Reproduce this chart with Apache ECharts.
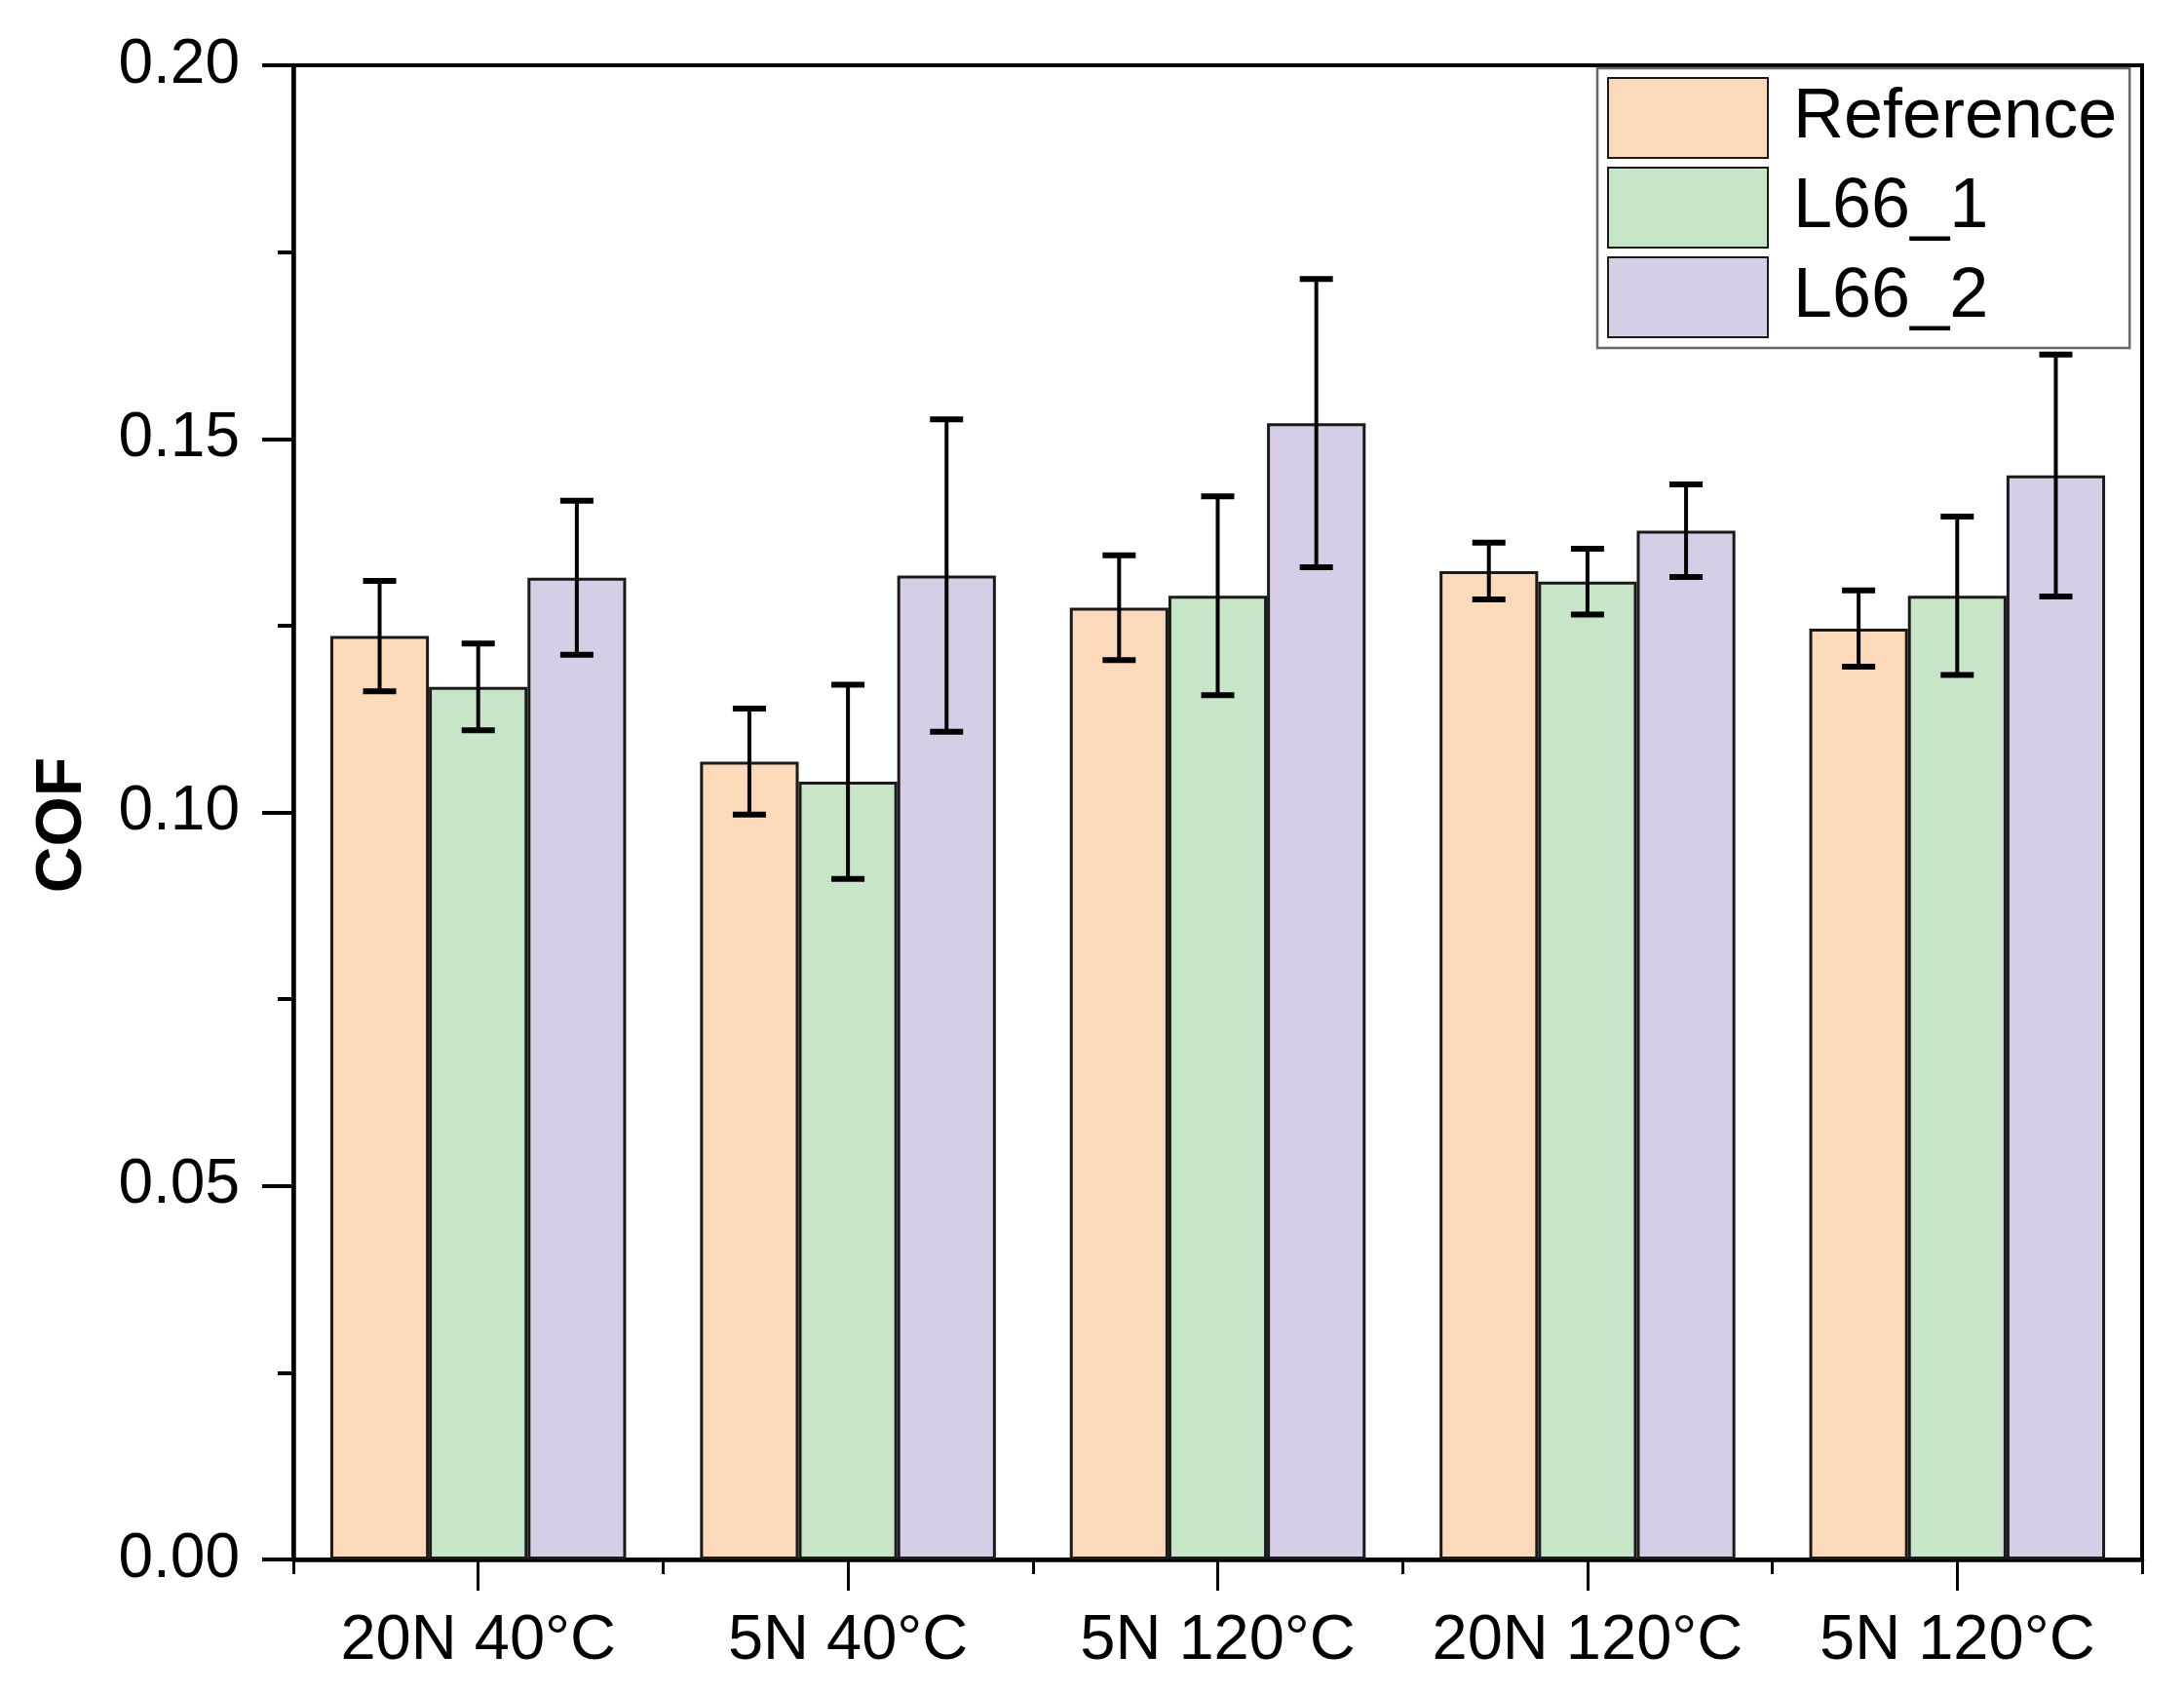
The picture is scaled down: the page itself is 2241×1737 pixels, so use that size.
<!DOCTYPE html>
<html>
<head>
<meta charset="utf-8">
<script src="https://cdn.jsdelivr.net/npm/echarts@6/dist/echarts.min.js"></script>
<style>
html,body{margin:0;padding:0;background:#fff;}
#chart{width:2241px;height:1737px;}
</style>
</head>
<body>
<div id="chart"></div>
<script>
const categories = ['20N 40°C', '5N 40°C', '5N 120°C', '20N 120°C', '5N 120°C'];
const seriesNames = ['Reference', 'L66_1', 'L66_2'];
const referenceValues = [0.1236, 0.1068, 0.1274, 0.1323, 0.1246];
const referenceErrors = [0.0074, 0.0071, 0.0070, 0.0038, 0.0051];
const l66_1Values = [0.1168, 0.1041, 0.1290, 0.1309, 0.1290];
const l66_1Errors = [0.0058, 0.0130, 0.0133, 0.0044, 0.0106];
const l66_2Values = [0.1314, 0.1317, 0.1521, 0.1377, 0.1451];
const l66_2Errors = [0.0103, 0.0209, 0.0193, 0.0062, 0.0162];
const yTicks = [0, 0.05, 0.10, 0.15, 0.20];

const colors = ['#FCD9B8', '#C6E6C7', '#D8CDE6'];
const valueSets = [referenceValues, l66_1Values, l66_2Values];
const errorSets = [referenceErrors, l66_1Errors, l66_2Errors];
const FONT = '"Liberation Sans", Arial, sans-serif';

const chart = echarts.init(document.getElementById('chart'));

const gridRect = {left: 301, right: 43, top: 67, bottom: 137, outerBoundsMode: 'none', containLabel: false};

function errRender(si) {
  return function (params, api) {
    const ci = api.value(0), v = api.value(1), e = api.value(2);
    const c = api.coord([ci, v]);
    const catW = api.size([1, 0])[0];
    const bw = catW * 0.8 / 3;
    const x = c[0] + (si - 1) * bw;
    const top = api.coord([ci, v + e])[1];
    const bot = api.coord([ci, v - e])[1];
    const cap = 17;
    const st = {stroke: '#000', lineWidth: 4};
    const cs = {stroke: '#000', lineWidth: 6};
    return {type: 'group', children: [
      {type: 'line', shape: {x1: x, y1: top, x2: x, y2: bot}, style: st},
      {type: 'line', shape: {x1: x - cap, y1: top, x2: x + cap, y2: top}, style: cs},
      {type: 'line', shape: {x1: x - cap, y1: bot, x2: x + cap, y2: bot}, style: cs}
    ]};
  };
}

const barSeries = seriesNames.map((n, i) => ({
  name: n,
  type: 'bar',
  xAxisIndex: 0, yAxisIndex: 0,
  data: valueSets[i],
  barGap: '0%',
  barCategoryGap: '20%',
  itemStyle: {color: colors[i], borderColor: '#1a1a1a', borderWidth: 3},
  z: 2
}));

const errSeries = seriesNames.map((n, i) => ({
  name: n + ' err',
  type: 'custom',
  xAxisIndex: 0, yAxisIndex: 0,
  renderItem: errRender(i),
  data: valueSets[i].map((v, k) => [k, v, errorSets[i][k]]),
  z: 5,
  silent: true
}));

const option = {
  backgroundColor: '#fff',
  animation: false,
  textStyle: {fontFamily: FONT},
  grid: [
    Object.assign({show: true, borderColor: '#000', borderWidth: 4, backgroundColor: 'transparent'}, gridRect),
    Object.assign({show: false}, gridRect)
  ],
  legend: {
    data: seriesNames,
    orient: 'vertical',
    left: 1639, top: 70,
    padding: [9, 13, 10, 10],
    itemWidth: 164, itemHeight: 82, itemGap: 8,
    borderColor: '#666', borderWidth: 2.5,
    icon: 'rect',
    textStyle: {fontSize: 72, color: '#000', fontFamily: FONT, padding: [0, 0, 0, 21]}
  },
  xAxis: [
    {
      type: 'category', gridIndex: 0, data: categories,
      axisLine: {lineStyle: {color: '#000', width: 4.5}},
      axisTick: {show: true, length: 15, lineStyle: {color: '#000', width: 3}},
      axisLabel: {fontSize: 65, color: '#000', margin: 52, fontFamily: FONT, interval: 0}
    },
    {
      type: 'category', gridIndex: 1, data: categories,
      axisLine: {show: false},
      axisTick: {show: true, alignWithLabel: true, length: 32, lineStyle: {color: '#000', width: 3}},
      axisLabel: {show: false}
    }
  ],
  yAxis: [
    {
      type: 'value', gridIndex: 0, min: 0, max: 0.2, interval: 0.05,
      name: 'COF', nameLocation: 'middle', nameGap: 203,
      nameTextStyle: {fontSize: 66, fontWeight: 'bold', color: '#000', fontFamily: FONT, padding: [0, 26, 0, 0]},
      axisLine: {show: true, lineStyle: {color: '#000', width: 4.5}},
      axisTick: {show: true, length: 32, lineStyle: {color: '#000', width: 4}},
      minorTick: {show: true, splitNumber: 2, length: 16, lineStyle: {color: '#000', width: 4}},
      splitLine: {show: false},
      axisLabel: {fontSize: 64, color: '#000', margin: 55, fontFamily: FONT,
        formatter: v => yTicks.includes(Math.round(v * 100) / 100) ? v.toFixed(2) : ''}
    },
    {
      type: 'value', gridIndex: 1, min: 0, max: 0.2, show: false
    }
  ],
  series: barSeries.concat(errSeries)
};

chart.setOption(option);
</script>
</body>
</html>
